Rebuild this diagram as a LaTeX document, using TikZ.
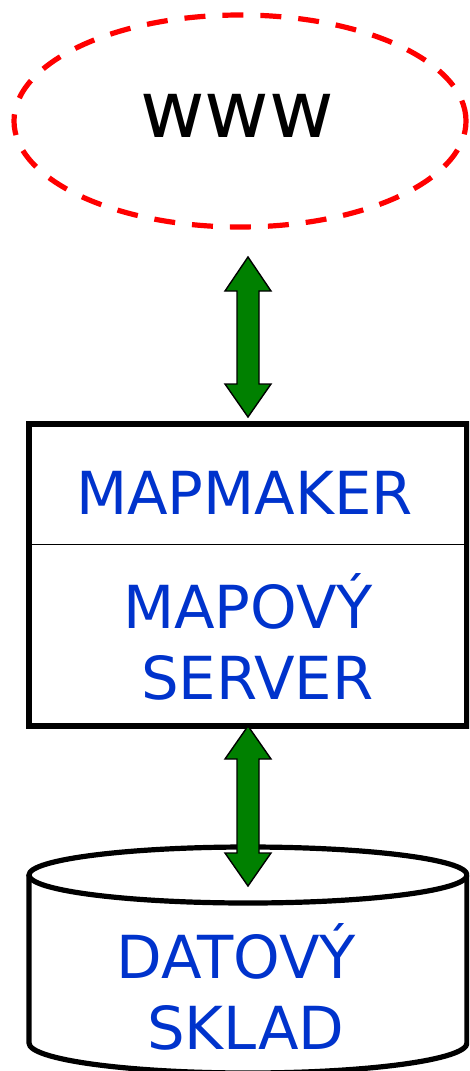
\documentclass[tikz,border=0pt]{standalone}
\usepackage{fontspec}
\usetikzlibrary{shapes.geometric}
\setmainfont{DejaVu Sans}
\definecolor{lbl}{HTML}{0033CC}
\definecolor{arr}{HTML}{008000}
\tikzset{
 px/.style={x=1pt,y=-1pt},
 lab/.style={inner sep=0pt,text=lbl,font=\fontsize{59.3}{71}\selectfont,align=center},
 dbl/.style={draw=black,line width=1.4pt,fill=arr,line join=miter},
 cyl/.style={draw=black,line width=5.2pt}
}
\begin{document}
\begin{tikzpicture}[px]
\useasboundingbox (0,0) rectangle (469,1071);
\clip (0,0) rectangle (469,1071);
\node[draw=red,dash pattern=on 21pt off 17pt,line width=5.2pt,ellipse,minimum width=452pt,minimum height=212pt,inner sep=0pt] (www) at (240,121) {};
\node[inner sep=0pt,font=\fontsize{79}{85}\selectfont] (wt) at (237,116) {www};
\node[draw=black,line width=5.2pt,minimum width=438pt,minimum height=302pt,inner sep=0pt] (box) at (248,575) {};
\coordinate (m1) at (29,544.5); \coordinate (m2) at (467,544.5);
\draw[line width=1.5pt] (m1) -- (m2);
\node[lab] (mm) at (244.5,493) {MAPMAKER};
\node[lab] (ms) at (248,637) {MAPOVÝ\\\hspace*{18.5pt}SERVER};
\draw[cyl] (29,875) -- (29,1043) arc[start angle=180,end angle=0,x radius=219,y radius=30] -- (467,875);
\draw[cyl,fill=white] (248,875) ellipse[x radius=219,y radius=28];
\node[lab] (ds) at (236.5,987) {DATOVÝ\\\hspace*{18.5pt}SKLAD};
\draw[dbl] (248,257) -- (271,291) -- (259,291) -- (259,384) -- (271,384) -- (248,417) -- (225,384) -- (237,384) -- (237,291) -- (225,291) -- cycle;
\draw[dbl] (248,726) -- (271,759) -- (259,759) -- (259,853) -- (271,853) -- (248,886) -- (225,853) -- (237,853) -- (237,759) -- (225,759) -- cycle;
\end{tikzpicture}
\end{document}
